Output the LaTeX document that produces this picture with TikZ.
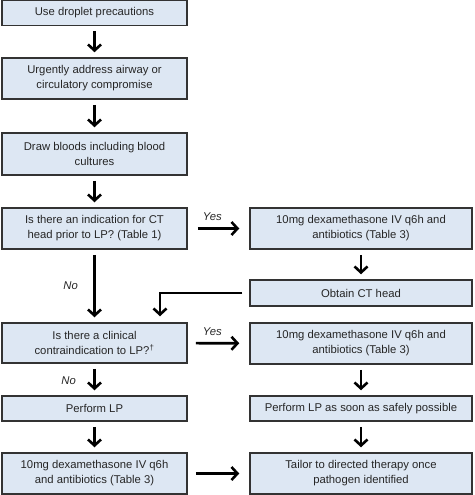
\documentclass[tikz,border=0pt]{standalone}
\usepackage{fontspec}
\setmainfont{Liberation Sans}
\usepackage{xcolor}
\usetikzlibrary{arrows.meta}
\definecolor{boxfill}{HTML}{DDE7F3}
\definecolor{boxline}{HTML}{333333}

\begin{document}
\begin{tikzpicture}[x=1pt,y=-1pt]
\tikzstyle{box}=[rectangle, draw=boxline, fill=boxfill, line width=1.5pt, align=center, inner sep=2pt, text=black!85, font=\fontsize{11.3}{15}\selectfont]
\tikzstyle{lbox}=[box, minimum width=185pt]
\tikzstyle{rbox}=[box, minimum width=222pt]
\tikzstyle{flow}=[-{Straight Barb[length=6pt,width=13pt]}, line width=2.6pt, shorten <=5pt, shorten >=5pt]
\tikzstyle{answer}=[font=\itshape\fontsize{11.3}{12}\selectfont, text=black!85]
\useasboundingbox (0,0) rectangle (474,495);

\node[lbox, minimum height=25pt] (drop) at (94.5,13) {Use droplet precautions};
\node[lbox, minimum height=41pt] (airway) at (94.5,78.5) {Urgently address airway or\\circulatory compromise};
\node[lbox, minimum height=42pt] (bloods) at (94.5,154) {Draw bloods including blood\\cultures};
\node[lbox, minimum height=41pt] (ctq) at (94.5,228.5) {Is there an indication for CT\\head prior to LP? (Table 1)};
\node[lbox, minimum height=40pt] (lpq) at (94.5,343) {Is there a clinical\\contraindication to LP?\textsuperscript{†}};
\node[lbox, minimum height=25pt] (lp) at (94.5,408.5) {Perform LP};
\node[lbox, minimum height=41pt] (dexa) at (94.5,473.5) {10mg dexamethasone IV q6h\\and antibiotics (Table 3)};

\node[rbox, minimum height=41pt] (dexb) at (361,228.5) {10mg dexamethasone IV q6h and\\antibiotics (Table 3)};
\node[rbox, minimum height=26pt] (ct) at (361,293) {Obtain CT head};
\node[rbox, minimum height=41pt] (dexc) at (361,343.5) {10mg dexamethasone IV q6h and\\antibiotics (Table 3)};
\node[rbox, minimum height=25pt] (lpsoon) at (361,408.5) {Perform LP as soon as safely possible};
\node[rbox, minimum height=41pt] (tailor) at (361,473.5) {Tailor to directed therapy once\\pathogen identified};

\path[flow]
(drop) edge (airway)
(airway) edge (bloods)
(bloods) edge (ctq)
(ctq) edge node[answer, left=12pt] {No} (lpq)
    edge[shorten <=10pt, shorten >=10pt] node[answer, above=3pt, pos=0.4] {Yes} (dexb)
(dexb) edge (ct)
(lpq) edge node[answer, left=14pt, pos=0.55] {No} (lp)
    edge[shorten <=8pt, shorten >=10pt] node[answer, above=3pt, pos=0.4] {Yes} (dexc)
(dexc) edge (lpsoon)
(lp) edge (dexa)
(lpsoon) edge (tailor)
(dexa) edge[shorten <=8pt, shorten >=10pt] (tailor);

\draw[flow, shorten <=7pt, shorten >=6pt] (ct.west) -| ([xshift=65.5pt]lpq.north);

\end{tikzpicture}
\end{document}
